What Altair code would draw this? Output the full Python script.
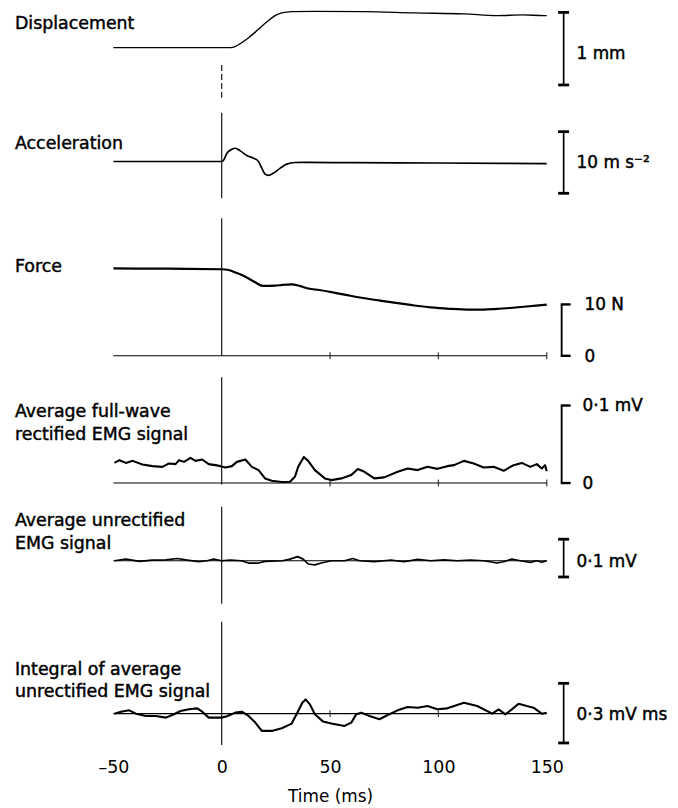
import altair as alt
import pandas as pd

FONT = "DejaVu Sans"

# ---------------- data ----------------
T_DISP = [-50, -30, -10, 0, 3, 5.5, 9.2, 12.4, 15.5, 18.5, 21.6, 24.6, 27.7, 32.3, 43, 66, 89, 112, 127, 139, 148.5, 150]
V_DISP = [0, 0, 0, 0, 0, 0.008, 0.068, 0.137, 0.214, 0.296, 0.374, 0.442, 0.479, 0.497, 0.501, 0.497, 0.479, 0.466, 0.442, 0.452, 0.442, 0.442]

T_ACC = [-50, -20, 0, 1, 2.4, 4.7, 6.3, 8.6, 11.6, 14.7, 16.7, 18.5, 20, 21.6, 23.9, 27, 30, 33.8, 40, 60, 100, 150]
V_ACC = [0, 0, 0, 0.3, 1.34, 1.98, 2.15, 1.72, 0.97, 0.54, 0.11, -1.08, -2.05, -2.26, -1.88, -1.08, -0.43, -0.16, -0.15, -0.2, -0.25, -0.35]

T_FORCE = [-50, -25, 0, 3.2, 7, 10.9, 15, 19.3, 24.6, 28, 32.3, 36, 39.9, 45, 50.6, 58, 65.9, 73, 81.2, 88,
           96.5, 105, 114.8, 121, 127, 133, 139.3, 145, 150]
V_FORCE = [17.0, 16.95, 16.85, 16.7, 16.1, 15.4, 14.4, 13.6, 13.65, 13.8, 13.9, 13.6, 13.1, 12.8, 12.4, 11.8, 11.2, 10.75, 10.25, 9.85,
           9.42, 9.15, 8.97, 8.98, 9.15, 9.3, 9.55, 9.75, 9.95]

T_REC = [-49.5, -47.2, -44.2, -41.1, -36.6, -32, -27.4, -24.3, -21.3, -19.7, -17.4, -14.4, -12.1, -9, -6, -2.9, -0.6, 1.7, 4.7, 7,
         10.9, 13.9, 17, 20, 23.1, 27.7, 31.5, 33.8, 35.3, 37.9, 39.9, 43, 47.6, 50.6, 55.2, 59.8, 62.8, 65.9, 70.4, 75,
         81.2, 85.8, 90.4, 95, 99.5, 104.1, 107.2, 111.8, 116.3, 120.9, 125.5, 130.1, 134.7, 138.5, 142.4, 145.4, 147.7, 149.2, 150]
V_REC = [0.026, 0.0295, 0.026, 0.0286, 0.024, 0.0218, 0.0209, 0.0253, 0.0244, 0.0295, 0.0273, 0.0324, 0.0286, 0.0304, 0.0244, 0.0231, 0.0218, 0.0201, 0.0218, 0.0273,
         0.0304, 0.0209, 0.0167, 0.006, 0.003, 0.0013, 0.0017, 0.0081, 0.0209, 0.0337, 0.0286, 0.0167, 0.006, 0.0038, 0.006, 0.0103, 0.018, 0.0145, 0.006, 0.0073,
         0.0145, 0.0188, 0.0167, 0.0209, 0.0183, 0.0218, 0.0231, 0.0286, 0.0253, 0.0201, 0.0209, 0.0158, 0.0231, 0.026, 0.0209, 0.0244, 0.0188, 0.0231, 0.0154]

T_UN = [-49.5, -44.2, -38, -32, -25.8, -20.5, -15.9, -10.6, -6.7, -3.7, 0, 4, 9, 12.4, 17, 20, 28, 31.5, 35, 37.6,
        39.9, 43, 46, 50.6, 56.7, 60.5, 63.6, 70.4, 78.1, 84.2, 90.4, 96.5, 102.6, 108.7, 114.8, 120.9, 127, 130.1, 133.9, 137.7,
        142.4, 145.4, 147.7, 150]
V_UN = [0, 0.0044, -0.0015, 0.0018, 0.0026, 0.006, 0.0018, -0.0026, 0, 0.0044, 0, 0.0018, 0, -0.006, -0.006, -0.0015, 0, 0.0044, 0.011, 0.0044,
        -0.0085, -0.011, -0.006, 0, 0, 0.006, 0, -0.0026, 0.0018, -0.0026, 0.0036, 0, 0.0026, 0, 0.0018, 0, -0.006, -0.0026, 0.0044, 0,
        -0.0041, 0, -0.004, 0]

T_INT = [-49.5, -46.5, -42.7, -39.6, -35, -30.4, -25.8, -22.8, -19, -15.1, -11.3, -9, -6, -2.9, 0, 2.4, 6.3, 9.3, 12.4, 15.5,
         18.5, 23.1, 27.7, 32.3, 35.3, 37.2, 38.7, 40.7, 43, 46.8, 50.6, 56.7, 59.8, 62.1, 64.4, 68.2, 72.8, 76.6, 81.2, 85.8,
         90.4, 95, 99.5, 104.1, 111.8, 117.9, 124.8, 127.8, 130.9, 133.9, 137, 140.8, 143.9, 147.7, 150]
V_INT = [0, 0.01, 0.0167, 0, -0.0117, -0.0117, -0.02, -0.0067, 0.0133, 0.0217, 0.0267, 0.01, -0.02, -0.02, -0.02, -0.0133, 0.005, 0.01, -0.0117, -0.045,
         -0.0867, -0.0867, -0.0733, -0.05, 0.0133, 0.055, 0.0717, 0.0467, -0.0033, -0.04, -0.05, -0.0617, -0.045, -0.0033, 0.005, -0.0117, -0.0283, -0.0067, 0.0167, 0.0333,
         0.03, 0.0383, 0.0217, 0.0267, 0.055, 0.0383, 0, 0.0217, -0.0033, 0.0217, 0.05, 0.0383, 0.03, 0, 0.005]

LABEL_DISP = ["Displacement"]
LABEL_ACC = ["Acceleration"]
LABEL_FORCE = ["Force"]
LABEL_REC = ["Average full-wave", "rectified EMG signal"]
LABEL_UN = ["Average unrectified", "EMG signal"]
LABEL_INT = ["Integral of average", "unrectified EMG signal"]

X_TICKS = [-50, 0, 50, 100, 150]
BASE_TICKS_FORCE = [50, 100, 150]
BASE_TICKS_REC = [50, 100, 150]
BASE_TICKS_INT = [50, 100]

# ---------------- layout ----------------
PLOT_W = 436
X_DOMAIN = [-50, 150]
LABEL_X = -99
BAR_X = 453
TXT_X = 466
TXT_STYLE = dict(font=FONT, color="black", stroke="black", strokeWidth=0.45)


def yscale(top, h, zero, k):
    return alt.Scale(domain=[(zero - top - h) / k, (zero - top) / k], nice=False, zero=False)


def build_panel(h, sc, t, v, lw, labels, label_y, vline, dashed=False, baseline=False, base_ticks=None,
                bar=None, bracket=None, axis=None, interp="linear"):
    def X(field="t"):
        return alt.X(f"{field}:Q", scale=alt.Scale(domain=X_DOMAIN, nice=False, zero=False),
                     axis=axis if axis is not None else None)
    Y = lambda f="v": alt.Y(f"{f}:Q", scale=sc, axis=None)

    layers = []
    # vertical line at t = 0
    vdf = pd.DataFrame({"t": [0]})
    rule_kw = dict(color="black", strokeWidth=1.1)
    if dashed:
        rule_kw["strokeDash"] = [6, 3]
    layers.append(alt.Chart(vdf).mark_rule(**rule_kw).encode(x=X(), y=alt.value(vline[0]), y2=alt.value(vline[1])))
    if baseline:
        bdf = pd.DataFrame({"t": [X_DOMAIN[0]], "t2": [X_DOMAIN[1]], "v": [0]})
        layers.append(alt.Chart(bdf).mark_rule(color="black", strokeWidth=1.1).encode(x=X(), x2="t2:Q", y=Y()))
    if base_ticks:
        tdf = pd.DataFrame({"t": base_ticks, "v": [0] * len(base_ticks)})
        layers.append(alt.Chart(tdf).mark_tick(orient="vertical", size=7, thickness=1.3, color="black").encode(x=X(), y=Y()))
    # trace
    df = pd.DataFrame({"t": t, "v": v})
    layers.append(alt.Chart(df).mark_line(color="black", strokeWidth=lw, interpolate=interp,
                                          strokeJoin="round").encode(x=X(), y=Y()))
    # left labels
    for txt, py in zip(labels, label_y):
        layers.append(alt.Chart(pd.DataFrame({"s": [txt]})).mark_text(
            align="left", baseline="middle", fontSize=17.5, **TXT_STYLE).encode(
            x=alt.value(LABEL_X), y=alt.value(py), text="s:N"))
    # I-shaped scale bar
    if bar is not None:
        top_v, bot_v, txt, ty = bar
        layers.append(alt.Chart(pd.DataFrame({"v": [top_v], "v2": [bot_v]})).mark_rule(color="black", strokeWidth=1.7).encode(
            x=alt.value(BAR_X), y=Y(), y2="v2:Q"))
        layers.append(alt.Chart(pd.DataFrame({"v": [top_v, bot_v]})).mark_rule(color="black", strokeWidth=2.8).encode(
            x=alt.value(BAR_X - 5.5), x2=alt.value(BAR_X + 5.5), y=Y()))
        layers.append(alt.Chart(pd.DataFrame({"s": [txt]})).mark_text(
            align="left", baseline="middle", fontSize=17, **TXT_STYLE).encode(
            x=alt.value(TXT_X), y=alt.value(ty), text="s:N"))
    # bracket-shaped scale bar
    if bracket is not None:
        top_v, txt_top, txt_bot, lx = bracket
        layers.append(alt.Chart(pd.DataFrame({"v": [top_v], "v2": [0]})).mark_rule(color="black", strokeWidth=1.9).encode(
            x=alt.value(BAR_X - 2), y=Y(), y2="v2:Q"))
        layers.append(alt.Chart(pd.DataFrame({"v": [top_v, 0]})).mark_rule(color="black", strokeWidth=2.4).encode(
            x=alt.value(BAR_X - 2.9), x2=alt.value(BAR_X + 7), y=Y()))
        layers.append(alt.Chart(pd.DataFrame({"v": [top_v, 0], "s": [txt_top, txt_bot]})).mark_text(
            align="left", baseline="middle", fontSize=17, dy=1, **TXT_STYLE).encode(
            x=alt.value(lx), y=Y(), text="s:N"))
    return alt.layer(*layers).properties(width=PLOT_W, height=h)


# Panel 1: displacement (mm)
H1 = 97
sc1 = yscale(8, H1, 45.5, 73)
p1 = build_panel(H1, sc1, T_DISP, V_DISP, 1.4, LABEL_DISP, [13.7], (55, 89), dashed=True,
                 bar=(0.486, -0.514, "1 mm", 43.7), interp="monotone")

# Panel 2: acceleration (m s-2)
H2 = 100
sc2 = yscale(105, H2, 160, 6.2)
p2 = build_panel(H2, sc2, T_ACC, V_ACC, 1.7, LABEL_ACC, [37.7], (6, 92),
                 bar=(4.84, -5.16, "10 m s\u207b\u00b2", 57), interp="monotone")

# Panel 3: force (N)
H3 = 160
sc3 = yscale(205, H3, 355.5, 5.17)
p3 = build_panel(H3, sc3, T_FORCE, V_FORCE, 2.2, LABEL_FORCE, [61], (12, 150.5), baseline=True,
                 base_ticks=BASE_TICKS_FORCE, bracket=(10, "10 N", "0", 474), interp="monotone")

# Panel 4: rectified EMG (mV)
H4 = 130
sc4 = yscale(365, H4, 483.5, 780)
p4 = build_panel(H4, sc4, T_REC, V_REC, 2.1, LABEL_REC, [46.7, 70], (12, 120), baseline=True,
                 base_ticks=BASE_TICKS_REC, bracket=(0.1, "0\u00b71 mV", "0", 472))

# Panel 5: unrectified EMG (mV)
H5 = 117
sc5 = yscale(495, H5, 561.7, 380)
p5 = build_panel(H5, sc5, T_UN, V_UN, 1.7, LABEL_UN, [26.7, 50], (12.3, 110), baseline=True,
                 bar=(0.0571, -0.0429, "0\u00b71 mV", 67.7))

# Panel 6: integral (mV ms)
H6 = 138
sc6 = yscale(612, H6, 715.5, 200)
x_axis = alt.Axis(values=X_TICKS, domain=False, ticks=False, grid=False, labelFont=FONT, labelFontSize=17.5,
                  labelColor="black", labelPadding=11, labelFlush=False,
                  labelExpr="datum.value < 0 ? '\u2013' + abs(datum.value) : datum.label",
                  title="Time (ms)", titleFont=FONT, titleFontSize=17, titleFontWeight="normal",
                  titleColor="black", titlePadding=12)
p6 = build_panel(H6, sc6, T_INT, V_INT, 2.1, LABEL_INT, [59.7, 82], (11, 135), baseline=True,
                 base_ticks=BASE_TICKS_INT, bar=(0.1525, -0.1475, "0\u00b73 mV ms", 104.7), axis=x_axis)

chart = alt.vconcat(p1, p2, p3, p4, p5, p6, spacing=0, bounds="flush").properties(
    padding={"left": 7, "top": 0, "right": 2, "bottom": 0},
    background="white",
).configure_view(strokeWidth=0)

chart.save("out.html", embed_options={"renderer": "svg", "actions": False})
